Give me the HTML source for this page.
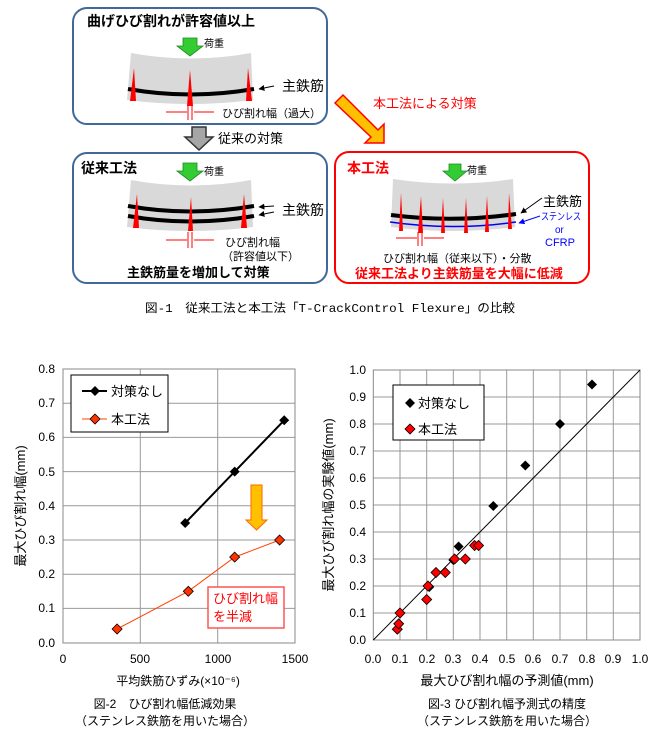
<!DOCTYPE html>
<html><head><meta charset="utf-8"><style>
body{margin:0;background:#fff}
svg{display:block}
text{font-family:"Liberation Sans","Noto Sans CJK JP",sans-serif}
text.mono{font-family:"Liberation Mono","Noto Sans CJK JP",monospace}
</style></head><body>
<svg width="660" height="738" viewBox="0 0 660 738" xmlns="http://www.w3.org/2000/svg">
<defs>
<marker id="ah" viewBox="0 0 10 10" refX="9" refY="5" markerWidth="6" markerHeight="6" orient="auto"><path d="M0,0 L10,5 L0,10 z" fill="#000"/></marker>
<marker id="ahb" viewBox="0 0 10 10" refX="9" refY="5" markerWidth="6" markerHeight="6" orient="auto"><path d="M0,0 L10,5 L0,10 z" fill="#00f"/></marker>
</defs>
<!-- Box1 -->
<rect x="73" y="8" width="254" height="116" rx="14" fill="#fff" stroke="#41689a" stroke-width="2"/>
<text x="87" y="26" font-size="14" font-weight="bold">曲げひび割れが許容値以上</text>
<path d="M131,53 Q191,64 251,53 L253,100 Q190,108 127,100 Z" fill="#d9d9d9"/>
<polygon points="183,38 197,38 197,46 203,46 190,56 177,46 183,46" fill="#33cc33" stroke="#1a8a1a" stroke-width="0.8"/>
<text x="204" y="47" font-size="10">荷重</text>
<path d="M128,89 Q190,100 254,89" stroke="#000" stroke-width="4" fill="none"/>
<polygon points="134,68 136,101 130,101" fill="#f00"/>
<polygon points="190,70 193,106 187,106" fill="#f00"/>
<polygon points="248,68 252,101 246,101" fill="#f00"/>
<line x1="274" y1="86" x2="259" y2="89" stroke="#000" stroke-width="1" marker-end="url(#ah)"/>
<text x="282" y="91" font-size="14">主鉄筋</text>
<g stroke="#f00" stroke-width="1"><line x1="166" y1="112" x2="187" y2="112"/><line x1="194" y1="112" x2="214" y2="112"/><line x1="188" y1="104" x2="188" y2="120"/><line x1="192" y1="104" x2="192" y2="120"/></g>
<text x="222" y="117" font-size="11">ひび割れ幅（過大）</text>
<polygon points="192,127 206,127 206,137 213,137 199,150 185,137 192,137" fill="#a6a6a6" stroke="#333" stroke-width="1.5"/>
<text x="218" y="143" font-size="13">従来の対策</text>
<!-- Box2 -->
<rect x="73" y="153" width="254" height="130" rx="14" fill="#fff" stroke="#41689a" stroke-width="2"/>
<text x="81" y="173" font-size="14" font-weight="bold">従来工法</text>
<path d="M131,180 Q191,191 251,180 L253,227 Q190,235 127,227 Z" fill="#d9d9d9"/>
<polygon points="183,163 197,163 197,171 203,171 190,181 177,171 183,171" fill="#33cc33" stroke="#1a8a1a" stroke-width="0.8"/>
<text x="204" y="175" font-size="10">荷重</text>
<path d="M128,206 Q190,217 254,206" stroke="#000" stroke-width="4" fill="none"/>
<path d="M128,216 Q190,227 254,216" stroke="#000" stroke-width="4" fill="none"/>
<polygon points="137,194 139,228 133,228" fill="#f00"/>
<polygon points="191,197 193,231 188,231" fill="#f00"/>
<polygon points="244,194 247,228 241,228" fill="#f00"/>
<line x1="274" y1="206" x2="259" y2="207" stroke="#000" stroke-width="1" marker-end="url(#ah)"/>
<line x1="274" y1="212" x2="259" y2="215" stroke="#000" stroke-width="1" marker-end="url(#ah)"/>
<text x="282" y="215" font-size="14">主鉄筋</text>
<g stroke="#f00" stroke-width="1"><line x1="166" y1="240" x2="187" y2="240"/><line x1="194" y1="240" x2="214" y2="240"/><line x1="188" y1="232" x2="188" y2="248"/><line x1="192" y1="232" x2="192" y2="248"/></g>
<text x="225" y="246" font-size="11">ひび割れ幅</text>
<text x="222" y="260" font-size="11">（許容値以下）</text>
<text x="127" y="277" font-size="13" font-weight="bold">主鉄筋量を増加して対策</text>
<polygon points="335,103 343,95 378,130 384,124 384,143 365,143 371,137 " fill="#ffc000" stroke="#f00" stroke-width="1.5"/>
<text x="373" y="108" font-size="13" fill="#f00">本工法による対策</text>
<!-- Box3 -->
<rect x="335" y="152" width="254" height="131" rx="14" fill="#fff" stroke="#f00" stroke-width="2"/>
<text x="347" y="173" font-size="14" font-weight="bold" fill="#f00">本工法</text>
<path d="M393,179 Q453,188 513,179 L515,227 Q453,235 391,227 Z" fill="#d9d9d9"/>
<polygon points="449,164 461,164 461,171 467,171 455,181 443,171 449,171" fill="#33cc33" stroke="#1a8a1a" stroke-width="0.8"/>
<text x="467" y="174" font-size="10">荷重</text>
<path d="M391,215 Q453,223 516,214" stroke="#000" stroke-width="4" fill="none"/>
<path d="M390,222 Q453,231 516,222" stroke="#00f" stroke-width="1.5" fill="none"/>
<g fill="#f00">
<polygon points="401,193 403,231 399,231"/><polygon points="421,196 423,233 418,233"/><polygon points="443,198 445,233 441,233"/><polygon points="466,198 468,233 464,233"/><polygon points="487,196 489,232 485,232"/><polygon points="509,193 512,229 508,229"/>
</g>
<line x1="542" y1="198" x2="521" y2="213" stroke="#000" stroke-width="1" marker-end="url(#ah)"/>
<text x="543" y="206" font-size="13">主鉄筋</text>
<line x1="540" y1="216" x2="519" y2="223" stroke="#00f" stroke-width="1" marker-end="url(#ahb)"/>
<text x="541" y="220" font-size="10" fill="#00f" textLength="40" lengthAdjust="spacingAndGlyphs">ステンレス</text>
<text x="555" y="233" font-size="10" fill="#00f">or</text>
<text x="545" y="246" font-size="11" fill="#00f">CFRP</text>
<g stroke="#f00" stroke-width="1"><line x1="396" y1="238" x2="417" y2="238"/><line x1="424" y1="238" x2="444" y2="238"/><line x1="418" y1="232" x2="418" y2="246"/><line x1="422" y1="232" x2="422" y2="246"/></g>
<text x="383" y="262" font-size="11">ひび割れ幅（従来以下）・分散</text>
<text x="355" y="278" font-size="13" font-weight="bold" fill="#f00">従来工法より主鉄筋量を大幅に低減</text>
<text class="mono" x="145" y="312" font-size="12" textLength="370" lengthAdjust="spacingAndGlyphs">図-1　従来工法と本工法「T-CrackControl Flexure」の比較</text>

<!-- Chart 2 -->
<g stroke="#999" stroke-width="1">
<line x1="140.3" y1="369" x2="140.3" y2="643"/><line x1="217.7" y1="369" x2="217.7" y2="643"/>
<line x1="63" y1="403.2" x2="295" y2="403.2"/><line x1="63" y1="437.4" x2="295" y2="437.4"/><line x1="63" y1="471.6" x2="295" y2="471.6"/><line x1="63" y1="505.8" x2="295" y2="505.8"/><line x1="63" y1="540" x2="295" y2="540"/><line x1="63" y1="574.2" x2="295" y2="574.2"/><line x1="63" y1="608.4" x2="295" y2="608.4"/>
</g>
<rect x="63" y="369" width="232" height="274" fill="none" stroke="#888" stroke-width="1"/>
<g font-size="12" text-anchor="end">
<text x="55" y="373">0.8</text><text x="55" y="407">0.7</text><text x="55" y="441">0.6</text><text x="55" y="476">0.5</text><text x="55" y="510">0.4</text><text x="55" y="544">0.3</text><text x="55" y="578">0.2</text><text x="55" y="612">0.1</text><text x="55" y="647">0.0</text>
</g>
<g font-size="12" text-anchor="middle">
<text x="63" y="663">0</text><text x="140" y="663">500</text><text x="218" y="663">1000</text><text x="295" y="663">1500</text>
</g>
<text x="178" y="685" font-size="12" text-anchor="middle">平均鉄筋ひずみ(×10⁻⁶)</text>
<text transform="translate(25,506) rotate(-90)" font-size="13" text-anchor="middle">最大ひび割れ幅(mm)</text>
<polyline points="185.2,523 234.7,471.6 284.2,420.3" fill="none" stroke="#000" stroke-width="2"/>
<polyline points="117.1,629 188.3,591.3 234.7,557.1 279.6,540" fill="none" stroke="#ff4000" stroke-width="1"/>
<g fill="#000"><path d="M185.2,518 l5,5 -5,5 -5,-5z"/><path d="M234.7,466.6 l5,5 -5,5 -5,-5z"/><path d="M284.2,415.3 l5,5 -5,5 -5,-5z"/></g>
<g fill="#ff3300" stroke="#000" stroke-width="0.8"><path d="M117.1,624 l5,5 -5,5 -5,-5z"/><path d="M188.3,586.3 l5,5 -5,5 -5,-5z"/><path d="M234.7,552.1 l5,5 -5,5 -5,-5z"/><path d="M279.6,535 l5,5 -5,5 -5,-5z"/></g>
<rect x="71" y="375" width="97" height="57" fill="#fff" stroke="#000" stroke-width="1"/>
<line x1="82" y1="391" x2="107" y2="391" stroke="#000" stroke-width="2"/><path d="M95,386 l5,5 -5,5 -5,-5z" fill="#000"/>
<text x="111" y="396" font-size="13">対策なし</text>
<line x1="82" y1="419" x2="107" y2="419" stroke="#ff4000" stroke-width="1"/><path d="M95,414 l5,5 -5,5 -5,-5z" fill="#ff3300" stroke="#000" stroke-width="0.8"/>
<text x="111" y="424" font-size="13">本工法</text>
<polygon points="251,485 262,485 262,520 267,520 256.5,530 246,520 251,520" fill="#ffc000" stroke="#f60" stroke-width="1"/>
<rect x="208" y="587" width="76" height="41" fill="#fff" stroke="#f55" stroke-width="1.5"/>
<text x="213" y="603" font-size="13" fill="#f00">ひび割れ幅</text>
<text x="213" y="621" font-size="13" fill="#f00">を半減</text>
<text x="165" y="708" font-size="12" text-anchor="middle">図-2　ひび割れ幅低減効果</text>
<text x="165" y="725" font-size="12" text-anchor="middle">（ステンレス鉄筋を用いた場合）</text>

<!-- Chart 3 -->
<g stroke="#999" stroke-width="1">
<line x1="400" y1="370" x2="400" y2="640"/><line x1="426.7" y1="370" x2="426.7" y2="640"/><line x1="453.3" y1="370" x2="453.3" y2="640"/><line x1="480" y1="370" x2="480" y2="640"/><line x1="506.7" y1="370" x2="506.7" y2="640"/><line x1="533.3" y1="370" x2="533.3" y2="640"/><line x1="560" y1="370" x2="560" y2="640"/><line x1="586.7" y1="370" x2="586.7" y2="640"/><line x1="613.3" y1="370" x2="613.3" y2="640"/>
<line x1="373.3" y1="397" x2="640" y2="397"/><line x1="373.3" y1="424" x2="640" y2="424"/><line x1="373.3" y1="451" x2="640" y2="451"/><line x1="373.3" y1="478" x2="640" y2="478"/><line x1="373.3" y1="505" x2="640" y2="505"/><line x1="373.3" y1="532" x2="640" y2="532"/><line x1="373.3" y1="559" x2="640" y2="559"/><line x1="373.3" y1="586" x2="640" y2="586"/><line x1="373.3" y1="613" x2="640" y2="613"/>
</g>
<rect x="373.3" y="370" width="266.7" height="270" fill="none" stroke="#888" stroke-width="1"/>
<line x1="373.3" y1="640" x2="640" y2="370" stroke="#000" stroke-width="1"/>
<g font-size="12" text-anchor="end">
<text x="366" y="374">1.0</text><text x="366" y="401">0.9</text><text x="366" y="428">0.8</text><text x="366" y="455">0.7</text><text x="366" y="482">0.6</text><text x="366" y="509">0.5</text><text x="366" y="536">0.4</text><text x="366" y="563">0.3</text><text x="366" y="590">0.2</text><text x="366" y="617">0.1</text><text x="366" y="644">0.0</text>
</g>
<g font-size="12" text-anchor="middle">
<text x="373" y="663">0.0</text><text x="400" y="663">0.1</text><text x="427" y="663">0.2</text><text x="453" y="663">0.3</text><text x="480" y="663">0.4</text><text x="507" y="663">0.5</text><text x="533" y="663">0.6</text><text x="560" y="663">0.7</text><text x="587" y="663">0.8</text><text x="613" y="663">0.9</text><text x="640" y="663">1.0</text>
</g>
<text x="507" y="685" font-size="13" text-anchor="middle">最大ひび割れ幅の予測値(mm)</text>
<text transform="translate(333,505) rotate(-90)" font-size="13" text-anchor="middle">最大ひび割れ幅の実験値(mm)</text>
<g fill="#000">
<path d="M592,379.5 l5,5 -5,5 -5,-5z"/><path d="M560,419 l5,5 -5,5 -5,-5z"/><path d="M525.3,460.5 l5,5 -5,5 -5,-5z"/><path d="M493.3,501 l5,5 -5,5 -5,-5z"/><path d="M458.6,541.5 l5,5 -5,5 -5,-5z"/><path d="M453.3,555 l5,5 -5,5 -5,-5z"/><path d="M429.3,582 l5,5 -5,5 -5,-5z"/>
</g>
<g fill="#f00" stroke="#000" stroke-width="0.8">
<path d="M397.3,624.2 l5,5 -5,5 -5,-5z"/><path d="M398.7,618.8 l5,5 -5,5 -5,-5z"/><path d="M400,608 l5,5 -5,5 -5,-5z"/><path d="M426.7,594.5 l5,5 -5,5 -5,-5z"/><path d="M428,581 l5,5 -5,5 -5,-5z"/><path d="M436,567.5 l5,5 -5,5 -5,-5z"/><path d="M445.3,567.5 l5,5 -5,5 -5,-5z"/><path d="M454.6,554 l5,5 -5,5 -5,-5z"/><path d="M465.3,554 l5,5 -5,5 -5,-5z"/><path d="M474.6,540.5 l5,5 -5,5 -5,-5z"/><path d="M478.6,540.5 l5,5 -5,5 -5,-5z"/>
</g>
<rect x="393" y="385" width="91" height="55" fill="#fff" stroke="#000" stroke-width="1"/>
<path d="M410,398 l5,5 -5,5 -5,-5z" fill="#000"/>
<text x="418" y="408" font-size="13">対策なし</text>
<path d="M410,424 l5,5 -5,5 -5,-5z" fill="#f00" stroke="#000" stroke-width="0.8"/>
<text x="418" y="434" font-size="13">本工法</text>
<text x="507" y="708" font-size="12" text-anchor="middle">図-3 ひび割れ幅予測式の精度</text>
<text x="507" y="725" font-size="12" text-anchor="middle">（ステンレス鉄筋を用いた場合）</text>
</svg>
</body></html>
